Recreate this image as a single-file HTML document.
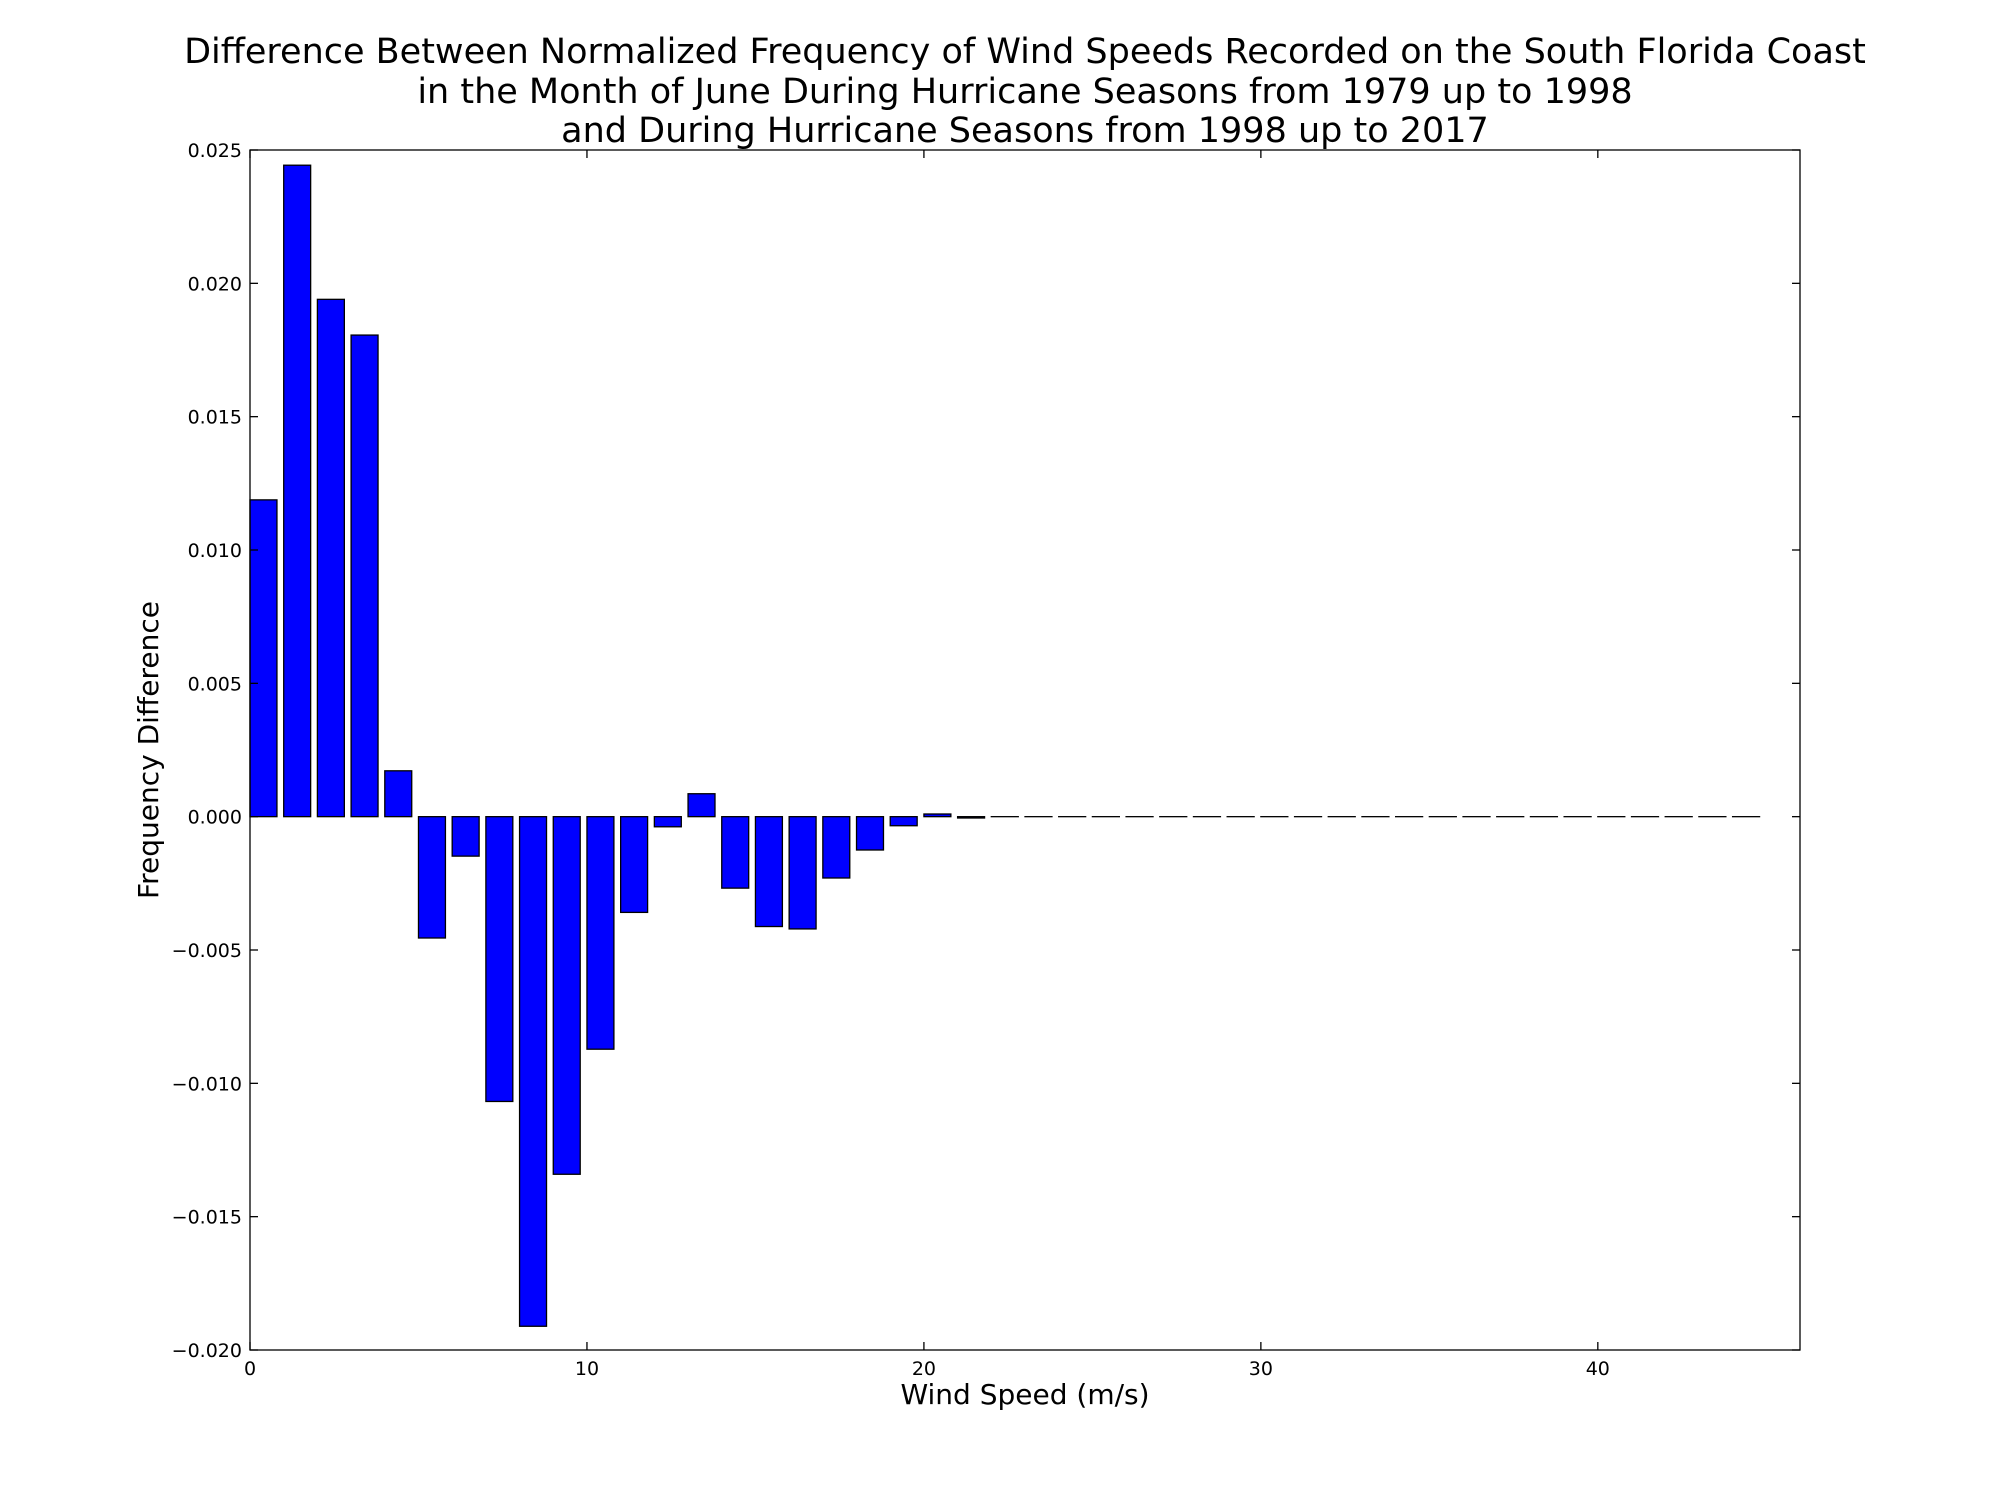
<!DOCTYPE html>
<html><head><meta charset="utf-8"><style>
html,body{margin:0;padding:0;background:#fff;}
svg{display:block;font-family:"DejaVu Sans","Liberation Sans",sans-serif;}
</style></head><body>
<svg id="chart" width="2000" height="1500" viewBox="0 0 2000 1500">
<rect width="2000" height="1500" fill="#fff"/>
<g font-size="35" text-anchor="middle" fill="#000">
<text x="1025" y="63">Difference Between Normalized Frequency of Wind Speeds Recorded on the South Florida Coast</text>
<text x="1025" y="103">in the Month of June During Hurricane Seasons from 1979 up to 1998</text>
<text x="1025" y="142">and During Hurricane Seasons from 1998 up to 2017</text>
</g>
<g id="bars"></g>
<g id="axes"></g>
<text x="1025" y="1404" font-size="28" text-anchor="middle">Wind Speed (m/s)</text>
<text transform="translate(158,750) rotate(-90)" font-size="28" text-anchor="middle">Frequency Difference</text>
</svg>
<script>
const categories = Array.from({length:45},(_,i)=>i);
const values = [0.01188,0.02443,0.0194,0.01806,0.00172,-0.00455,-0.00148,-0.01068,-0.01911,-0.01341,-0.00872,-0.00359,-0.00038,0.00086,-0.00268,-0.00412,-0.00421,-0.0023,-0.00125,-0.00034,0.0001,-0.00005,0,0,0,0,0,0,0,0,0,0,0,0,0,0,0,0,0,0,0,0,0,0,0];
const xTicks = [0,10,20,30,40];
const yTicks = [-0.020,-0.015,-0.010,-0.005,0.000,0.005,0.010,0.015,0.020,0.025];
const yTickLabels = ["\u22120.020","\u22120.015","\u22120.010","\u22120.005","0.000","0.005","0.010","0.015","0.020","0.025"];

const L=250,R=1800,T=150,B=1350,XMIN=0,XMAX=46,YMIN=-0.02,YMAX=0.025;
const xs=v=>L+(v-XMIN)/(XMAX-XMIN)*(R-L);
const ys=v=>B-(v-YMIN)/(YMAX-YMIN)*(B-T);
const NS="http://www.w3.org/2000/svg";
const bars=document.getElementById('bars'), axes=document.getElementById('axes');
function mk(tag,attrs,parent){const e=document.createElementNS(NS,tag);for(const k in attrs)e.setAttribute(k,attrs[k]);parent.appendChild(e);return e;}
categories.forEach((c,i)=>{
  const v=values[i];const y0=ys(0),y1=ys(v);
  const r=mk('rect',{x:xs(c),y:Math.min(y0,y1),width:xs(c+0.8)-xs(c),height:Math.max(Math.abs(y1-y0),0.01),fill:'#0000ff',stroke:'#000','stroke-width':1.3},bars);
  
  
});
const frame=mk('rect',{x:L,y:T,width:R-L,height:B-T,fill:'none',stroke:'#000','stroke-width':1.3},axes);


xTicks.forEach(t=>{
  const x=xs(t);
  mk('line',{x1:x,x2:x,y1:B,y2:B-8,stroke:'#000','stroke-width':1.3},axes);
  mk('line',{x1:x,x2:x,y1:T,y2:T+8,stroke:'#000','stroke-width':1.3},axes);
  const tx=mk('text',{x:x,y:B+25,'font-size':19,'text-anchor':'middle'},axes);
  tx.textContent=t;
  
  
});
yTicks.forEach((t,i)=>{
  const y=ys(t);
  mk('line',{x1:L,x2:L+8,y1:y,y2:y,stroke:'#000','stroke-width':1.3},axes);
  mk('line',{x1:R,x2:R-8,y1:y,y2:y,stroke:'#000','stroke-width':1.3},axes);
  const tx=mk('text',{x:L-8,y:y+7,'font-size':19,'text-anchor':'end'},axes);
  tx.textContent=yTickLabels[i];
  
  
});
</script>
</body></html>
